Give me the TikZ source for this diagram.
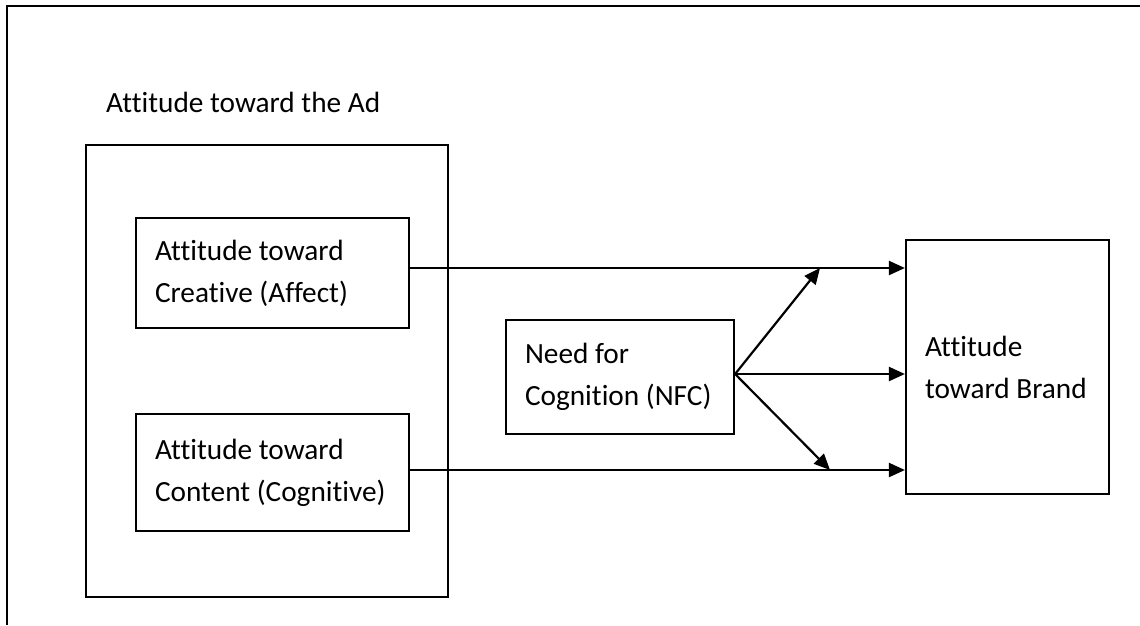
\documentclass[tikz,border=0pt]{standalone}
\usepackage{fontspec}
\setmainfont{Carlito}[Ligatures={NoCommon}]
\usepackage{tikz}
\usetikzlibrary{arrows.meta, positioning, calc}
\newcommand{\diagfont}{\fontsize{29.3pt}{42pt}\selectfont}

\begin{document}
\begin{tikzpicture}[
    x=1pt, y=-1pt,
    box/.style={rectangle, draw=black, line width=2.2pt, align=flush left,
        inner xsep=19pt, inner ysep=0pt, font=\diagfont},
    arr/.style={-{Triangle[length=16pt, width=14pt]}, line width=2.2pt}
]
\useasboundingbox (0,0) rectangle (1140,625);
% page frame (cut at right and bottom)
\draw[line width=2.6pt] (7,625) -- (7,6) -- (1140,6);

\node[anchor=base west, inner sep=0pt, font=\diagfont] (adlabel) at (106,112) {Attitude toward the Ad};
\node[box, minimum width=362pt, minimum height=452pt] (adbox) at (267,371) {};
\node[box, minimum width=273pt, minimum height=110pt, text width=235pt] (creative) at (272.5,273) {Attitude toward\\Creative (Affect)};
\node[box, minimum width=273pt, minimum height=117pt, text width=235pt] (content) at (272.5,472.5) {Attitude toward\\Content (Cognitive)};
\node[box, minimum width=228pt, minimum height=114pt, text width=190pt] (nfc) at (620,377) {Need for\\Cognition (NFC)};
\node[box, minimum width=203pt, minimum height=254pt, text width=165pt] (brand) at (1007.5,367) {Attitude\\toward Brand};

\coordinate (nfcout) at ([yshift=3pt]nfc.east);
\coordinate (uptip) at (820,268);
\coordinate (lowtip) at (830,470);

\draw[arr] ([yshift=5pt]creative.east) -- ([yshift=5pt]creative.east -| brand.west);
\draw[arr] (nfcout) -- (nfcout -| brand.west);
\draw[arr] ([yshift=2.5pt]content.east) -- ([yshift=2.5pt]content.east -| brand.west);
\draw[arr] (nfcout) -- (uptip);
\draw[arr] (nfcout) -- (lowtip);
\end{tikzpicture}
\end{document}
